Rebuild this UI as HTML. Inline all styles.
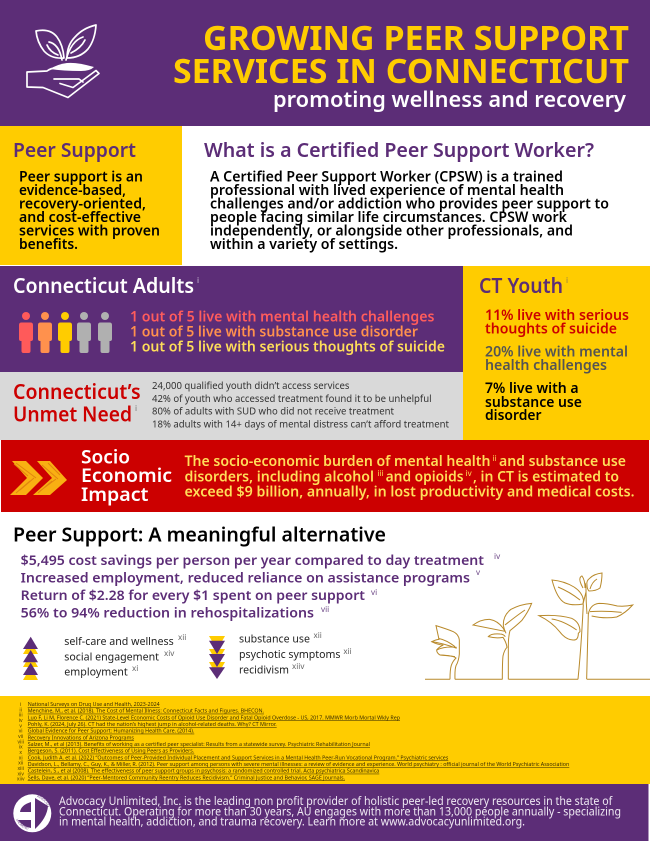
<!DOCTYPE html>
<html lang="en"><head><meta charset="utf-8"><title>Growing Peer Support Services in Connecticut</title>
<style>
html,body{margin:0;padding:0;background:#fff;width:650px;height:841px;overflow:hidden}
svg{display:block}
text{font-family:"Noto Sans","Noto Sans CJK JP","Liberation Sans",sans-serif}
.b{font-weight:600}
.h{font-weight:700}
.ref{font-size:5.4px;fill:#3a2c00;text-decoration:underline}
.rn{font-size:5px;fill:#4a3b00;text-anchor:middle}
.sup{font-size:8px}
.p{fill:none;stroke:#b8892a;stroke-width:1}
.w{fill:none;stroke:#fff;stroke-width:1.7;stroke-linejoin:round;stroke-linecap:round}
</style></head><body>
<svg xmlns="http://www.w3.org/2000/svg" width="650" height="841" viewBox="0 0 650 841">
<defs>
<path id="pers" d="M-7 12q0-2.500 2.500-2.500h9q2.500 0 2.500 2.500v14q0 2-2 2h-.5v10q0 2-2 2h-5q-2 0-2-2v-10h-.5q-2 0-2-2z"/>
<path id="logotop" d="M33 796.500A16.800 16.800 0 0 1 47 821"/>
<path id="logobot" d="M16 819A16.800 16.800 0 0 0 31 830"/>
</defs>
<rect width="650" height="841" fill="#fff"/>
<rect width="650" height="126" fill="#5c2d77"/>
<rect y="126" width="182" height="139" fill="#ffcc00"/>
<rect y="266" width="463" height="106" fill="#5c2d77"/>
<rect x="463" y="266" width="187" height="174" fill="#ffcc00"/>
<rect y="372" width="463" height="68" fill="#d9d9d9"/>
<rect x="1" y="440" width="648" height="72" fill="#cc0000"/>
<rect y="696" width="650" height="88" fill="#ffcc00"/>
<rect y="784" width="648.500" height="57" fill="#5c2d77"/>

<!-- hand and seedling icon -->
<path class="w" d="M36 31q14-3 21 6q6 8 7 21q-13 1-20-7q-7-9-8-20z"/>
<path class="w" d="M96 25q-1 15-8 24q-8 9-21 9q0-13 8-21q8-9 21-12z"/>
<path class="w" d="M49 42q10 2 13 18M47 45q3 7 11 10M83 37q-12 4-17 23M85 40q-4 8-14 13"/>
<path d="M50 69q8-5 17-6q10-1 27 4q-4 4-13 4q-18 0-31-2z" fill="#fff"/>
<path class="w" d="M27 72l20-1q4-3 9-3M27 72v15l16 .5l25 10l31-24l-3-3l-23 17l-13-4M54 79h25l4 3"/>

<text class="h" x="203" y="50" font-size="33.500" fill="#ffcc00" textLength="426" lengthAdjust="spacingAndGlyphs">GROWING PEER SUPPORT</text>
<text class="h" x="173" y="83" font-size="33.500" fill="#ffcc00" textLength="456" lengthAdjust="spacingAndGlyphs">SERVICES IN CONNECTICUT</text>
<text class="b" x="273" y="107" font-size="22" fill="#fff" textLength="353" lengthAdjust="spacingAndGlyphs">promoting wellness and recovery</text>

<text class="b" x="13" y="157" font-size="20" fill="#5c2d77" textLength="123" lengthAdjust="spacingAndGlyphs">Peer Support</text>
<g class="b" font-size="14" fill="#000">
<text x="19" y="181.500" textLength="124" lengthAdjust="spacingAndGlyphs">Peer support is an</text>
<text x="19" y="195" textLength="107" lengthAdjust="spacingAndGlyphs">evidence-based,</text>
<text x="19" y="208.500" textLength="127" lengthAdjust="spacingAndGlyphs">recovery-oriented,</text>
<text x="19" y="222" textLength="122" lengthAdjust="spacingAndGlyphs">and cost-effective</text>
<text x="19" y="235.500" textLength="141" lengthAdjust="spacingAndGlyphs">services with proven</text>
<text x="19" y="249" textLength="59" lengthAdjust="spacingAndGlyphs">benefits.</text>
</g>
<text class="b" x="204" y="157" font-size="20" fill="#5c2d77" textLength="390" lengthAdjust="spacingAndGlyphs">What is a Certified Peer Support Worker?</text>
<g class="b" font-size="14" fill="#000">
<text x="210" y="181.500" textLength="353" lengthAdjust="spacingAndGlyphs">A Certified Peer Support Worker (CPSW) is a trained</text>
<text x="210" y="195" textLength="354" lengthAdjust="spacingAndGlyphs">professional with lived experience of mental health</text>
<text x="210" y="208.500" textLength="399" lengthAdjust="spacingAndGlyphs">challenges and/or addiction who provides peer support to</text>
<text x="210" y="222" textLength="357" lengthAdjust="spacingAndGlyphs">people facing similar life circumstances. CPSW work</text>
<text x="210" y="235.500" textLength="363" lengthAdjust="spacingAndGlyphs">independently, or alongside other professionals, and</text>
<text x="210" y="249" textLength="188" lengthAdjust="spacingAndGlyphs">within a variety of settings.</text>
</g>

<text class="b" x="13" y="293" font-size="20.500" fill="#fff" textLength="181" lengthAdjust="spacingAndGlyphs">Connecticut Adults</text>
<text class="sup" x="197" y="283" fill="#cfc4d8">i</text>
<g>
<circle cx="26" cy="316" r="4" fill="#ff5a5a"/><use href="#pers" transform="translate(26,313)" fill="#ff5a5a"/>
<circle cx="45" cy="316" r="4" fill="#ff914d"/><use href="#pers" transform="translate(45,313)" fill="#ff914d"/>
<circle cx="65" cy="316" r="4" fill="#ffcc00"/><use href="#pers" transform="translate(65,313)" fill="#ffcc00"/>
<circle cx="84" cy="316" r="4" fill="#b0b0b0"/><use href="#pers" transform="translate(84,313)" fill="#b0b0b0"/>
<circle cx="105" cy="316" r="4" fill="#b0b0b0"/><use href="#pers" transform="translate(105,313)" fill="#b0b0b0"/>
</g>
<g class="b" font-size="14">
<text x="130" y="321.700" fill="#ff5c5c" textLength="304.500" lengthAdjust="spacingAndGlyphs">1 out of 5 live with mental health challenges</text>
<text x="130" y="336.700" fill="#ff914d" textLength="288" lengthAdjust="spacingAndGlyphs">1 out of 5 live with substance use disorder</text>
<text x="130" y="351.700" fill="#ffde59" textLength="315" lengthAdjust="spacingAndGlyphs">1 out of 5 live with serious thoughts of suicide</text>
</g>

<text class="b" x="479" y="293" font-size="20.500" fill="#5c2d77" textLength="84" lengthAdjust="spacingAndGlyphs">CT Youth</text>
<text class="sup" x="566" y="283" fill="#8a7a50">i</text>
<g class="b" font-size="14">
<text x="485" y="320" fill="#cc0000" textLength="144" lengthAdjust="spacingAndGlyphs">11% live with serious</text>
<text x="485" y="333.700" fill="#cc0000" textLength="132" lengthAdjust="spacingAndGlyphs">thoughts of suicide</text>
<text x="485" y="356.700" fill="#545454" textLength="143" lengthAdjust="spacingAndGlyphs">20% live with mental</text>
<text x="485" y="370" fill="#545454" textLength="122" lengthAdjust="spacingAndGlyphs">health challenges</text>
<text x="485" y="393" fill="#000" textLength="93.600" lengthAdjust="spacingAndGlyphs">7% live with a</text>
<text x="485" y="407" fill="#000" textLength="97" lengthAdjust="spacingAndGlyphs">substance use</text>
<text x="485" y="420" fill="#000" textLength="56.500" lengthAdjust="spacingAndGlyphs">disorder</text>
</g>

<text class="b" x="13" y="399" font-size="21" fill="#cc0000" textLength="127.600" lengthAdjust="spacingAndGlyphs">Connecticut’s</text>
<text class="b" x="13" y="421.700" font-size="21" fill="#cc0000" textLength="119" lengthAdjust="spacingAndGlyphs">Unmet Need</text>
<text class="sup" x="135" y="411" fill="#777">i</text>
<g font-size="10" fill="#333">
<text x="152" y="389" textLength="197.500" lengthAdjust="spacingAndGlyphs">24,000 qualified youth didn’t access services</text>
<text x="152" y="402" textLength="279.600" lengthAdjust="spacingAndGlyphs">42% of youth who accessed treatment found it to be unhelpful</text>
<text x="152" y="414.700" textLength="242" lengthAdjust="spacingAndGlyphs">80% of adults with SUD who did not receive treatment</text>
<text x="152" y="427.700" textLength="297" lengthAdjust="spacingAndGlyphs">18% adults with 14+ days of mental distress can’t afford treatment</text>
</g>

<path d="M12 461h14l17 17l-17 17h-16l17-17z" fill="#f9b012"/>
<path d="M37 461h13l17 19l-17 15h-17l19-17z" fill="#f9b012"/>
<path d="M16 463l20 15M20 490l14-12M14 464l14 12M16 493l14-12M42 465l16 14M40 491l16-12M48 463l12 12M38 493l14-12" stroke="#e2840f" stroke-width="1" fill="none"/>
<g class="b" font-size="19" fill="#fff">
<text x="81" y="463.700" textLength="49" lengthAdjust="spacingAndGlyphs">Socio</text>
<text x="81" y="482" textLength="91" lengthAdjust="spacingAndGlyphs">Economic</text>
<text x="81" y="501" textLength="67.500" lengthAdjust="spacingAndGlyphs">Impact</text>
</g>
<g class="b" font-size="14" fill="#ffde59">
<text x="184.500" y="466" textLength="306" lengthAdjust="spacingAndGlyphs">The socio-economic burden of mental health</text>
<text x="499" y="466" textLength="127" lengthAdjust="spacingAndGlyphs">and substance use</text>
<text x="184.500" y="481.700" textLength="189.500" lengthAdjust="spacingAndGlyphs">disorders, including alcohol</text>
<text x="385.600" y="481.700" textLength="77.900" lengthAdjust="spacingAndGlyphs">and opioids</text>
<text x="473" y="481.700" textLength="146" lengthAdjust="spacingAndGlyphs">, in CT is estimated to</text>
<text x="184.500" y="496.700" textLength="450" lengthAdjust="spacingAndGlyphs">exceed $9 billion, annually, in lost productivity and medical costs.</text>
</g>
<g class="sup" fill="#ffde59">
<text x="492.500" y="461">ii</text><text x="377.500" y="476">iii</text><text x="465.500" y="476">iv</text>
</g>

<text class="b" x="13" y="541.700" font-size="19.500" fill="#000" textLength="373" lengthAdjust="spacingAndGlyphs">Peer Support: A meaningful alternative</text>
<g class="b" font-size="13.500" fill="#5c2d77">
<text x="20.700" y="565" textLength="463.300" lengthAdjust="spacingAndGlyphs">$5,495 cost savings per person per year compared to day treatment</text>
<text x="20.700" y="582.700" textLength="449.300" lengthAdjust="spacingAndGlyphs">Increased employment, reduced reliance on assistance programs</text>
<text x="20.700" y="600" textLength="344.300" lengthAdjust="spacingAndGlyphs">Return of $2.28 for every $1 spent on peer support</text>
<text x="20.700" y="617.700" textLength="293.300" lengthAdjust="spacingAndGlyphs">56% to 94% reduction in rehospitalizations</text>
</g>
<g class="sup" fill="#6f4a88">
<text x="494" y="559">iv</text><text x="476" y="575">v</text><text x="371" y="595">vi</text><text x="321" y="612">vii</text>
</g>

<g fill="#ffcc00">
<path d="M30.700 641L38 654H23z"/><path d="M30.700 654L38 667H23z"/><path d="M30.700 667L38 680H23z"/>
<path d="M209 636h16l-8 14z"/><path d="M209 649h16l-8 14z"/><path d="M209 662h16l-8 14z"/>
</g>
<g fill="#5c2d77">
<path d="M30.700 636.700L38 649H23z"/><path d="M30.700 650L38 662.300H23z"/><path d="M30.700 662.700L38 675H23z"/>
<path d="M209 640.700h16l-8 13.300z"/><path d="M209 654h16l-8 13z"/><path d="M209 667.300h16l-8 11.700z"/>
</g>
<g font-size="10.500" fill="#222">
<text x="64.300" y="645" textLength="109.400" lengthAdjust="spacingAndGlyphs">self-care and wellness</text>
<text x="64.300" y="660.300" textLength="94.700" lengthAdjust="spacingAndGlyphs">social engagement</text>
<text x="64.300" y="675.700" textLength="63.400" lengthAdjust="spacingAndGlyphs">employment</text>
<text x="239" y="642.700" textLength="71" lengthAdjust="spacingAndGlyphs">substance use</text>
<text x="239" y="658" textLength="101.500" lengthAdjust="spacingAndGlyphs">psychotic symptoms</text>
<text x="239" y="673.700" textLength="50" lengthAdjust="spacingAndGlyphs">recidivism</text>
</g>
<g class="sup" fill="#666">
<text x="178" y="640">xii</text><text x="164" y="656">xiv</text><text x="132" y="671">xi</text>
<text x="313.500" y="638">xii</text><text x="343.400" y="654">xii</text><text x="292" y="669">xiiv</text>
</g>

<!-- plants -->
<path class="p" d="M425 679.300H450M455 679.300H502.500M508.500 679.300H578M587 679.300H650"/>
<g transform="translate(410,590) scale(.3333)" fill="none" stroke="#b8892a" stroke-width="3">
<path d="M120 268q0-30 4-42q4-12 14-22q-10-8-48-9q-10-6-10-15q8-10 20-15q-15 0-35-10q12-6 22-7q-4-18-9-41q32 10 52 18q16 8 18 25v42q-2 22-10 35q-4 12-3 41"/>
<path d="M65 155q35 5 75 20M85 145q25 5 50 25M80 180q25-12 60-8M90 195q25 2 45 5"/>
<path d="M277 268q0-50 2-70q4-18 12-26q-2-15-12-30q-20 4-44-2q8-10 35-8q10 0 16 8M189 105q25-18 50-17q24 4 40 26l6 10zM295 268v-100q0-28 5-46q20-16 35-30q20-26 30-52q-35 3-62 18q-24 18-23 48q2 12 8 24M285 105q35-28 60-45"/>
<path d="M504 268q10-100 16-225M530 268q3-130 5-195q5-30 32-33q25 0 55 8q25 2 46-3q-22 25-48 36q-35 6-75-3M540 65q45-3 95 2"/>
<path d="M510 125q0-28-25-40q-40-12-98-8q38 18 62 48q18 24 40 25q16 2 16-20zM425 87q35 5 75 33"/>
</g>
<path class="p" d="M552 580q12 1 22 7q8 5 9.500 13l-.5 4q-10 2-18-1q-8-4-13-23zM558 587q12 5 22 13"/>
<path class="p" d="M583 604l3-12M587 614q-1-12-1-24q0-5-1-7M583 588q-4-7-3-10q1-2 2-2q3 4 3 12"/>
<path class="p" d="M602 573q-8 1-12 5q-4 3-3 7q0 4 2 6q7 0 11-3q2-7 2-15zM590 589q2-7 7-10"/>

<!-- references -->
<g>
<text class="ref" x="27.700" y="706" textLength="132" lengthAdjust="spacingAndGlyphs">National Surveys on Drug Use and Health, 2023-2024</text>
<text class="ref" x="27.700" y="712.700" textLength="236.300" lengthAdjust="spacingAndGlyphs">Menchine, M., et al. (2018). The Cost of Mental Illness: Connecticut Facts and Figures. BHECON.</text>
<text class="ref" x="27.700" y="719.300" textLength="372.300" lengthAdjust="spacingAndGlyphs">Luo F, Li M, Florence C. (2021) State-Level Economic Costs of Opioid Use Disorder and Fatal Opioid Overdose - US, 2017. MMWR Morb Mortal Wkly Rep</text>
<text class="ref" x="27.700" y="726" textLength="249" lengthAdjust="spacingAndGlyphs">Pohly, K. (2024, July 26). CT had the nation’s highest jump in alcohol-related deaths. Why? CT Mirror.</text>
<text class="ref" x="27.700" y="732.700" textLength="166.600" lengthAdjust="spacingAndGlyphs">Global Evidence for Peer Support: Humanizing Health Care. (2014).</text>
<text class="ref" x="27.700" y="739.300" textLength="106.300" lengthAdjust="spacingAndGlyphs">Recovery Innovations of Arizona Programs</text>
<text class="ref" x="27.700" y="746" textLength="342.300" lengthAdjust="spacingAndGlyphs">Salzer, M., et al (2013). Benefits of working as a certified peer specialist: Results from a statewide survey. Psychiatric Rehabilitation Journal</text>
<text class="ref" x="27.700" y="752.700" textLength="166.600" lengthAdjust="spacingAndGlyphs">Bergeson, S. (2011). Cost Effectiveness of Using Peers as Providers.</text>
<text class="ref" x="27.700" y="759.300" textLength="420.600" lengthAdjust="spacingAndGlyphs">Cook, Judith A. et al. (2022) “Outcomes of Peer-Provided Individual Placement and Support Services in a Mental Health Peer-Run Vocational Program.” Psychiatric services</text>
<text class="ref" x="27.700" y="766" textLength="541.600" lengthAdjust="spacingAndGlyphs">Davidson, L., Bellamy, C., Guy, K., &amp; Miller, R. (2012). Peer support among persons with severe mental illnesses: a review of evidence and experience. World psychiatry : official journal of the World Psychiatric Association</text>
<text class="ref" x="27.700" y="772.700" textLength="351.600" lengthAdjust="spacingAndGlyphs">Castelein, S., et al (2008). The effectiveness of peer support groups in psychosis: a randomized controlled trial. Acta psychiatrica Scandinavica</text>
<text class="ref" x="27.700" y="779.300" textLength="317.300" lengthAdjust="spacingAndGlyphs">Sells, Dave, et al. (2020) “Peer-Mentored Community Reentry Reduces Recidivism.” Criminal Justice and Behavior, SAGE Journals.</text>
</g>
<g>
<text class="rn" x="20.700" y="706">i</text><text class="rn" x="20.700" y="711.400">ii</text><text class="rn" x="20.700" y="716.700">iii</text><text class="rn" x="20.700" y="722">iv</text><text class="rn" x="20.700" y="727.300">v</text><text class="rn" x="20.700" y="732.700">vi</text><text class="rn" x="20.700" y="738">vii</text><text class="rn" x="20.700" y="743.300">viii</text><text class="rn" x="20.700" y="748.700">ix</text><text class="rn" x="20.700" y="754">x</text><text class="rn" x="20.700" y="759.300">xi</text><text class="rn" x="20.700" y="764.700">xii</text><text class="rn" x="20.700" y="770">xiii</text><text class="rn" x="20.700" y="775.300">xiv</text><text class="rn" x="20.700" y="780.700">xiiv</text>
</g>

<!-- logo -->
<circle cx="32.300" cy="813.300" r="19" fill="#fff"/>
<path d="M35 798L48 806Q47 818 35 829z" fill="#5c2d77"/>
<path d="M20 812q1-7 11-10v10z" fill="#5c2d77"/>
<path d="M18 820h13v8q-8-1-13-8z" fill="#5c2d77"/>
<text font-size="3" fill="#5c2d77"><textPath href="#logotop" startOffset="12%">ADVOCACY</textPath></text>
<text font-size="3" fill="#5c2d77"><textPath href="#logobot" startOffset="2%">UNLIMITED</textPath></text>

<g font-size="11.800" fill="#efe9f3">
<text x="59" y="805" textLength="553.300" lengthAdjust="spacingAndGlyphs">Advocacy Unlimited, Inc. is the leading non profit provider of holistic peer-led recovery resources in the state of</text>
<text x="59" y="815.300" textLength="562" lengthAdjust="spacingAndGlyphs">Connecticut. Operating for more than 30 years, AU engages with more than 13,000 people annually - specializing</text>
<text x="59" y="825.700" textLength="466" lengthAdjust="spacingAndGlyphs">in mental health, addiction, and trauma recovery. Learn more at www.advocacyunlimited.org.</text>
</g>
</svg>
</body></html>
